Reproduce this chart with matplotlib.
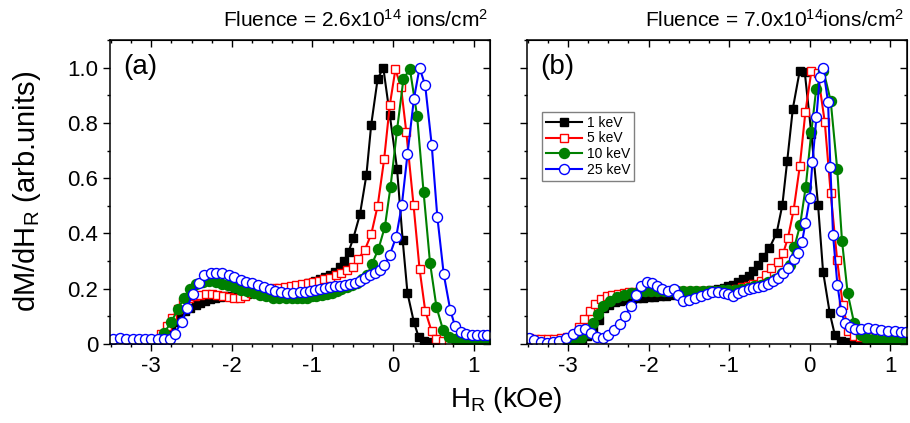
import numpy as np
import matplotlib
matplotlib.use('Agg')
import matplotlib.pyplot as plt
from matplotlib.ticker import MultipleLocator, FuncFormatter

plt.rcParams['font.family'] = ['Liberation Sans', 'DejaVu Sans']
plt.rcParams['mathtext.fontset'] = 'custom'
plt.rcParams['mathtext.rm'] = 'Liberation Sans'
plt.rcParams['mathtext.it'] = 'Liberation Sans:italic'
plt.rcParams['axes.unicode_minus'] = False

labels = ['1 keV', '5 keV', '10 keV', '25 keV']
panel_tags = ['(a)', '(b)']
titles = ['Fluence = 2.6x10$^{14}$ ions/cm$^{2}$', 'Fluence = 7.0x10$^{14}$ions/cm$^{2}$']

# ---- panel (a): fluence 2.6e14, (H_R kOe, dM/dH_R) ----
a_1kev = [(-2.90, 0.01), (-2.83, 0.03), (-2.76, 0.055), (-2.70, 0.08), (-2.64, 0.10), (-2.58, 0.118),
          (-2.52, 0.13), (-2.45, 0.141), (-2.39, 0.149), (-2.33, 0.155), (-2.27, 0.161), (-2.21, 0.166),
          (-2.15, 0.17), (-2.08, 0.172), (-2.02, 0.174), (-1.95, 0.176), (-1.88, 0.178), (-1.81, 0.181),
          (-1.74, 0.184), (-1.67, 0.187), (-1.60, 0.19), (-1.53, 0.193), (-1.46, 0.196), (-1.39, 0.199),
          (-1.32, 0.202), (-1.25, 0.206), (-1.18, 0.21), (-1.11, 0.214), (-1.04, 0.219), (-0.97, 0.226),
          (-0.90, 0.234), (-0.84, 0.242), (-0.78, 0.25), (-0.72, 0.262), (-0.66, 0.278), (-0.61, 0.301),
          (-0.55, 0.334), (-0.49, 0.385), (-0.41, 0.469), (-0.33, 0.611), (-0.27, 0.794), (-0.19, 0.96),
          (-0.12, 1.0), (-0.04, 0.83), (0.05, 0.635), (0.12, 0.377), (0.18, 0.184), (0.26, 0.078),
          (0.32, 0.024), (0.39, 0.01), (0.47, 0.006), (0.55, 0.005), (0.63, 0.004), (0.71, 0.004),
          (0.79, 0.003), (0.87, 0.003), (0.95, 0.003), (1.03, 0.003), (1.11, 0.003), (1.19, 0.003)]
a_5kev = [(-2.95, 0.01), (-2.88, 0.036), (-2.81, 0.065), (-2.74, 0.095), (-2.67, 0.125), (-2.60, 0.15),
          (-2.53, 0.165), (-2.46, 0.174), (-2.39, 0.178), (-2.32, 0.18), (-2.25, 0.18), (-2.18, 0.178),
          (-2.11, 0.174), (-2.04, 0.17), (-1.97, 0.167), (-1.90, 0.168), (-1.83, 0.175), (-1.76, 0.185),
          (-1.69, 0.193), (-1.62, 0.198), (-1.55, 0.2), (-1.48, 0.202), (-1.41, 0.204), (-1.34, 0.207),
          (-1.27, 0.21), (-1.20, 0.213), (-1.13, 0.216), (-1.06, 0.219), (-0.99, 0.223), (-0.92, 0.228),
          (-0.85, 0.234), (-0.78, 0.24), (-0.71, 0.248), (-0.64, 0.258), (-0.57, 0.268), (-0.50, 0.28),
          (-0.43, 0.308), (-0.35, 0.34), (-0.27, 0.397), (-0.19, 0.5), (-0.11, 0.668), (-0.04, 0.864),
          (0.03, 0.994), (0.10, 0.93), (0.165, 0.768), (0.255, 0.503), (0.33, 0.271), (0.40, 0.12),
          (0.48, 0.045), (0.54, 0.018), (0.62, 0.01), (0.70, 0.008), (0.78, 0.007), (0.86, 0.007),
          (0.94, 0.007), (1.02, 0.007), (1.10, 0.007), (1.18, 0.007)]
a_10kev = [(-2.98, 0.005), (-2.91, 0.015), (-2.84, 0.04), (-2.75, 0.08), (-2.67, 0.125), (-2.59, 0.168),
           (-2.52, 0.199), (-2.44, 0.217), (-2.36, 0.225), (-2.28, 0.226), (-2.20, 0.223), (-2.12, 0.218),
           (-2.05, 0.212), (-1.97, 0.205), (-1.89, 0.197), (-1.81, 0.19), (-1.73, 0.183), (-1.65, 0.177),
           (-1.57, 0.172), (-1.49, 0.168), (-1.41, 0.166), (-1.33, 0.166), (-1.25, 0.166), (-1.19, 0.166),
           (-1.13, 0.166), (-1.07, 0.168), (-1.01, 0.172), (-0.95, 0.175), (-0.88, 0.178), (-0.82, 0.181),
           (-0.76, 0.186), (-0.70, 0.192), (-0.64, 0.198), (-0.57, 0.205), (-0.51, 0.214), (-0.45, 0.222),
           (-0.39, 0.236), (-0.32, 0.25), (-0.26, 0.29), (-0.18, 0.344), (-0.10, 0.425), (-0.03, 0.57),
           (0.05, 0.774), (0.13, 0.96), (0.21, 0.996), (0.30, 0.824), (0.38, 0.549), (0.46, 0.293),
           (0.54, 0.133), (0.62, 0.052), (0.70, 0.024), (0.77, 0.016), (0.85, 0.012), (0.93, 0.01),
           (1.01, 0.01), (1.09, 0.01), (1.17, 0.01)]
a_25kev = [(-3.47, 0.019), (-3.39, 0.02), (-3.31, 0.019), (-3.23, 0.018), (-3.15, 0.017), (-3.08, 0.016),
           (-3.00, 0.016), (-2.92, 0.016), (-2.84, 0.016), (-2.77, 0.018), (-2.71, 0.037), (-2.62, 0.08),
           (-2.56, 0.13), (-2.48, 0.182), (-2.41, 0.22), (-2.34, 0.249), (-2.26, 0.257), (-2.19, 0.258),
           (-2.12, 0.255), (-2.04, 0.249), (-1.97, 0.241), (-1.89, 0.233), (-1.82, 0.225), (-1.75, 0.22),
           (-1.68, 0.212), (-1.60, 0.205), (-1.53, 0.2), (-1.46, 0.19), (-1.39, 0.187), (-1.31, 0.184),
           (-1.24, 0.184), (-1.15, 0.188), (-1.09, 0.188), (-1.03, 0.19), (-0.97, 0.196), (-0.90, 0.198),
           (-0.84, 0.202), (-0.78, 0.205), (-0.72, 0.208), (-0.66, 0.21), (-0.59, 0.214), (-0.53, 0.216),
           (-0.47, 0.222), (-0.41, 0.228), (-0.35, 0.238), (-0.28, 0.248), (-0.22, 0.256), (-0.16, 0.268),
           (-0.11, 0.284), (-0.04, 0.322), (0.04, 0.388), (0.11, 0.503), (0.18, 0.687), (0.26, 0.888),
           (0.33, 1.0), (0.40, 0.936), (0.48, 0.722), (0.55, 0.461), (0.63, 0.252), (0.71, 0.124),
           (0.77, 0.064), (0.84, 0.043), (0.91, 0.036), (0.98, 0.034), (1.04, 0.034), (1.12, 0.034),
           (1.17, 0.034)]

# ---- panel (b): fluence 7.0e14 ----
b_1kev = [(-2.90, 0.005), (-2.83, 0.015), (-2.76, 0.028), (-2.69, 0.052), (-2.62, 0.088), (-2.55, 0.13),
          (-2.49, 0.142), (-2.42, 0.15), (-2.35, 0.156), (-2.28, 0.16), (-2.21, 0.163), (-2.14, 0.165),
          (-2.07, 0.167), (-2.00, 0.169), (-1.93, 0.171), (-1.86, 0.173), (-1.79, 0.175), (-1.72, 0.177),
          (-1.65, 0.18), (-1.58, 0.182), (-1.51, 0.185), (-1.44, 0.188), (-1.37, 0.19), (-1.30, 0.193),
          (-1.23, 0.196), (-1.14, 0.198), (-1.07, 0.202), (-1.01, 0.208), (-0.95, 0.214), (-0.89, 0.224),
          (-0.83, 0.235), (-0.76, 0.247), (-0.70, 0.264), (-0.64, 0.284), (-0.58, 0.316), (-0.50, 0.347),
          (-0.41, 0.403), (-0.34, 0.503), (-0.28, 0.662), (-0.21, 0.852), (-0.124, 0.99), (-0.062, 0.984),
          (0.02, 0.76), (0.103, 0.503), (0.165, 0.262), (0.248, 0.112), (0.31, 0.034), (0.39, 0.012),
          (0.47, 0.006), (0.55, 0.004), (0.63, 0.004), (0.71, 0.003), (0.79, 0.003), (0.87, 0.003),
          (0.95, 0.003), (1.03, 0.003), (1.11, 0.003), (1.19, 0.003)]
b_5kev = [(-3.49, 0.02), (-3.41, 0.018), (-3.33, 0.018), (-3.25, 0.018), (-3.17, 0.018), (-3.09, 0.02),
          (-3.01, 0.025), (-2.93, 0.035), (-2.86, 0.06), (-2.80, 0.09), (-2.73, 0.12), (-2.66, 0.145),
          (-2.59, 0.163), (-2.52, 0.172), (-2.45, 0.178), (-2.38, 0.182), (-2.31, 0.185), (-2.24, 0.187),
          (-2.17, 0.189), (-2.10, 0.19), (-2.03, 0.19), (-1.96, 0.19), (-1.89, 0.19), (-1.82, 0.19),
          (-1.75, 0.19), (-1.68, 0.19), (-1.61, 0.19), (-1.54, 0.19), (-1.47, 0.19), (-1.40, 0.19),
          (-1.33, 0.19), (-1.26, 0.19), (-1.19, 0.19), (-1.12, 0.191), (-1.05, 0.193), (-0.98, 0.196),
          (-0.91, 0.2), (-0.84, 0.205), (-0.77, 0.211), (-0.70, 0.218), (-0.60, 0.226), (-0.54, 0.25),
          (-0.475, 0.274), (-0.40, 0.298), (-0.33, 0.328), (-0.27, 0.385), (-0.20, 0.485), (-0.124, 0.643),
          (-0.054, 0.84), (0.02, 0.987), (0.10, 0.98), (0.186, 0.804), (0.26, 0.545), (0.34, 0.304),
          (0.41, 0.14), (0.48, 0.045), (0.55, 0.028), (0.62, 0.025), (0.70, 0.025), (0.78, 0.025),
          (0.86, 0.024), (0.94, 0.024), (1.02, 0.024), (1.10, 0.024), (1.18, 0.024)]
b_10kev = [(-3.00, 0.005), (-2.92, 0.012), (-2.84, 0.022), (-2.77, 0.04), (-2.69, 0.076), (-2.63, 0.11),
           (-2.56, 0.136), (-2.48, 0.157), (-2.39, 0.17), (-2.31, 0.177), (-2.22, 0.184), (-2.13, 0.189),
           (-2.05, 0.19), (-1.97, 0.192), (-1.89, 0.193), (-1.81, 0.193), (-1.73, 0.193), (-1.65, 0.193),
           (-1.57, 0.193), (-1.49, 0.193), (-1.41, 0.193), (-1.33, 0.193), (-1.25, 0.193), (-1.17, 0.193),
           (-1.09, 0.194), (-1.01, 0.195), (-0.93, 0.197), (-0.85, 0.2), (-0.77, 0.204), (-0.69, 0.208),
           (-0.61, 0.213), (-0.52, 0.223), (-0.43, 0.236), (-0.35, 0.256), (-0.25, 0.286), (-0.19, 0.352),
           (-0.12, 0.43), (-0.05, 0.569), (0.02, 0.768), (0.08, 0.924), (0.17, 0.99), (0.26, 0.88),
           (0.34, 0.635), (0.40, 0.374), (0.47, 0.184), (0.55, 0.076), (0.63, 0.034), (0.70, 0.022),
           (0.78, 0.016), (0.86, 0.014), (0.94, 0.013), (1.02, 0.012), (1.10, 0.012), (1.18, 0.012)]
b_25kev = [(-3.49, 0.02), (-3.42, 0.013), (-3.34, 0.007), (-3.26, 0.004), (-3.19, 0.006), (-3.11, 0.012),
           (-3.02, 0.022), (-2.94, 0.036), (-2.86, 0.052), (-2.79, 0.054), (-2.71, 0.04), (-2.64, 0.025),
           (-2.57, 0.022), (-2.50, 0.034), (-2.43, 0.052), (-2.36, 0.073), (-2.29, 0.102), (-2.22, 0.139),
           (-2.15, 0.178), (-2.09, 0.208), (-2.02, 0.223), (-1.96, 0.22), (-1.89, 0.211), (-1.83, 0.199),
           (-1.76, 0.19), (-1.69, 0.199), (-1.63, 0.178), (-1.57, 0.154), (-1.50, 0.16), (-1.43, 0.166),
           (-1.35, 0.175), (-1.28, 0.182), (-1.21, 0.187), (-1.14, 0.188), (-1.07, 0.183), (-1.01, 0.18),
           (-0.95, 0.175), (-0.89, 0.184), (-0.83, 0.19), (-0.76, 0.198), (-0.70, 0.202), (-0.64, 0.205),
           (-0.58, 0.211), (-0.52, 0.216), (-0.45, 0.226), (-0.39, 0.238), (-0.33, 0.256), (-0.27, 0.274),
           (-0.20, 0.308), (-0.145, 0.328), (-0.095, 0.37), (-0.054, 0.437), (0.0, 0.527), (0.033, 0.657),
           (0.083, 0.822), (0.124, 0.966), (0.165, 1.0), (0.227, 0.876), (0.256, 0.641), (0.289, 0.394),
           (0.343, 0.214), (0.392, 0.118), (0.434, 0.076), (0.495, 0.06), (0.557, 0.055), (0.64, 0.055),
           (0.722, 0.058), (0.805, 0.055), (0.888, 0.05), (0.97, 0.048), (1.053, 0.046), (1.135, 0.043),
           (1.19, 0.042)]

panel_data = [[a_1kev, a_5kev, a_10kev, a_25kev], [b_1kev, b_5kev, b_10kev, b_25kev]]

colors = ['black', 'red', '#008000', 'blue']
markers = ['s', 's', 'o', 'o']
faces = ['black', 'white', '#008000', 'white']
msizes = [6.2, 6.2, 7.2, 7.2]

fig = plt.figure(figsize=(9.1, 4.23), dpi=100)
ax_a = fig.add_axes([0.121, 0.187, 0.418, 0.718])
ax_b = fig.add_axes([0.579, 0.187, 0.418, 0.718])
axes = [ax_a, ax_b]

yfmt = FuncFormatter(lambda v, p: '0' if abs(v) < 1e-9 else f'{v:.1f}')

for i, ax in enumerate(axes):
    for pts, c, m, f, s, lab in zip(panel_data[i], colors, markers, faces, msizes, labels):
        x, y = np.array(pts).T
        ax.plot(x, y, color=c, marker=m, mfc=f, mec=c, ms=s, mew=1.0, lw=1.5, label=lab)
    ax.set_xlim(-3.51, 1.21)
    ax.set_ylim(0, 1.10)
    ax.xaxis.set_major_locator(MultipleLocator(1))
    ax.xaxis.set_minor_locator(MultipleLocator(0.25))
    ax.yaxis.set_major_locator(MultipleLocator(0.2))
    ax.yaxis.set_minor_locator(MultipleLocator(0.1))
    ax.yaxis.set_major_formatter(yfmt)
    ax.tick_params(which='both', direction='out', width=1.0, labelsize=16)
    ax.tick_params(which='major', length=5)
    ax.tick_params(which='minor', length=2.5)
    for sp in ax.spines.values():
        sp.set_linewidth(1.1)
    # mirrored ticks on top and right pointing inward
    top = ax.secondary_xaxis('top')
    top.xaxis.set_major_locator(MultipleLocator(1))
    top.xaxis.set_minor_locator(MultipleLocator(0.25))
    top.tick_params(which='both', direction='in', width=1.0, labeltop=False)
    top.tick_params(which='major', length=5)
    top.tick_params(which='minor', length=2.5)
    right = ax.secondary_yaxis('right')
    right.yaxis.set_major_locator(MultipleLocator(0.2))
    right.yaxis.set_minor_locator(MultipleLocator(0.1))
    right.tick_params(which='both', direction='in', width=1.0, labelright=False)
    right.tick_params(which='major', length=5)
    right.tick_params(which='minor', length=2.5)
    ax.text(0.035, 0.955, panel_tags[i], transform=ax.transAxes, fontsize=20, va='top', ha='left')
    ax.text(0.993, 1.03, titles[i], transform=ax.transAxes, fontsize=15, va='bottom', ha='right')

ax_b.tick_params(labelleft=False)

ax_b.legend(loc='upper left', bbox_to_anchor=(0.04, 0.765), fontsize=10, frameon=True,
            fancybox=False, edgecolor='gray', framealpha=1, handlelength=2.6, borderpad=0.3,
            labelspacing=0.12, handletextpad=0.3, borderaxespad=0, numpoints=1)

fig.text(0.03, 0.548, 'dM/dH$_{\\mathrm{R}}$ (arb.units)', rotation=90, fontsize=21, ha='center', va='center')
fig.text(0.556, 0.055, 'H$_{\\mathrm{R}}$ (kOe)', fontsize=20, ha='center', va='center')

fig.savefig('out.png', dpi=100)
